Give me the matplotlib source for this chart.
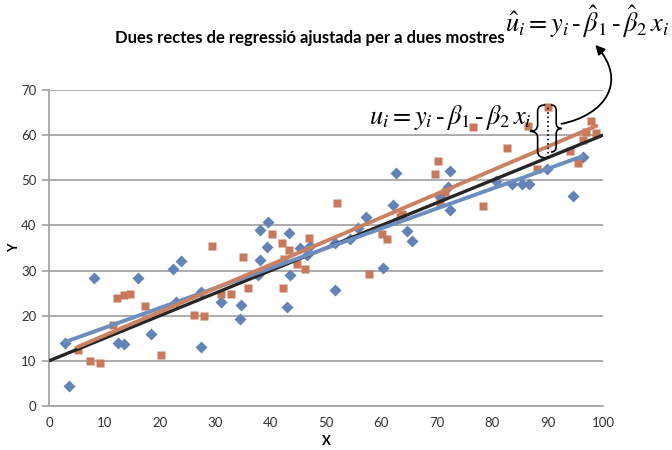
import matplotlib
matplotlib.use("Agg")
import matplotlib.pyplot as plt
from matplotlib.path import Path
from matplotlib.patches import PathPatch, FancyArrowPatch

plt.rcParams['font.family'] = ['Lato', 'DejaVu Sans']
plt.rcParams['mathtext.fontset'] = 'stix'

# sample 1 (blue diamonds)
x1 = [2.9, 3.7, 8.1, 12.4, 13.6, 16.1, 18.4, 22.4, 23.0, 23.9, 27.4, 27.4, 31.0, 34.5,
      34.6, 37.8, 38.1, 38.1, 39.3, 39.6, 42.9, 43.4, 43.5, 45.3, 46.6, 47.1, 51.6, 51.6,
      54.3, 55.8, 57.3, 60.2, 62.1, 62.6, 64.6, 65.6, 70.5, 72.1, 72.3, 72.4, 80.7, 83.5,
      85.3, 86.6, 89.9, 94.5, 96.4]
y1 = [13.9, 4.4, 28.4, 14.0, 13.8, 28.3, 16.0, 30.4, 23.1, 32.1, 13.1, 25.3, 23.1, 19.2,
      22.4, 29.0, 39.0, 32.3, 35.3, 40.8, 21.9, 38.3, 29.0, 34.9, 33.5, 35.4, 25.8, 36.0,
      37.1, 39.4, 41.8, 30.6, 44.5, 51.7, 38.8, 36.6, 46.4, 48.6, 43.4, 52.1, 49.8, 49.2,
      49.2, 49.2, 52.4, 46.5, 55.2]

# sample 2 (orange squares)
x2 = [5.2, 7.4, 9.2, 11.5, 12.3, 13.5, 14.6, 17.4, 20.2, 26.1, 27.9, 29.4, 31.0, 32.8,
      35.1, 35.9, 40.2, 42.1, 42.3, 42.4, 43.3, 44.7, 46.2, 47.0, 52.0, 57.8, 60.1, 61.1,
      63.4, 63.8, 69.6, 70.2, 70.6, 71.5, 76.6, 78.4, 82.7, 86.5, 88.0, 90.0, 94.0, 95.5,
      96.3, 97.0, 97.9, 98.8]
y2 = [12.4, 9.9, 9.6, 17.9, 24.0, 24.6, 24.8, 22.2, 11.2, 20.1, 19.9, 35.4, 24.7, 24.7,
      33.1, 26.1, 38.1, 36.0, 26.1, 32.5, 34.6, 31.5, 30.4, 37.2, 44.9, 29.2, 38.1, 36.9,
      41.9, 42.5, 51.5, 54.3, 45.0, 47.5, 61.9, 44.3, 57.2, 62.0, 52.6, 66.2, 56.5, 53.9,
      58.9, 60.6, 63.2, 60.4]

# population line and the two fitted lines (intercept, slope)
true_line = (10.0, 0.5)
fit1 = (12.9, 0.4406)
fit2 = (10.38, 0.523)

x_ticks = list(range(0, 101, 10))
y_ticks = list(range(0, 71, 10))

blue = '#6283B5'
orange = '#C8785B'
grid_grey = '#A6A6A6'

fig = plt.figure(figsize=(6.72, 4.5), dpi=100)
ax = fig.add_axes([49 / 672, 1 - 406 / 450, 554 / 672, 316 / 450])

ax.set_xlim(0, 100)
ax.set_ylim(0, 70)
ax.set_xticks(x_ticks)
ax.set_yticks(y_ticks)
ax.yaxis.grid(True, color=grid_grey, lw=1.3)
ax.set_axisbelow(True)
for s in ['top', 'right']:
    ax.spines[s].set_visible(False)
for s in ['left', 'bottom']:
    ax.spines[s].set_color(grid_grey)
    ax.spines[s].set_linewidth(1.3)
ax.tick_params(axis='x', length=0, pad=8, labelsize=9.5, labelcolor='#333333')
ax.tick_params(axis='y', length=5, width=1.3, color=grid_grey, pad=4,
               labelsize=9.5, labelcolor='#333333')

ax.set_xlabel('X', fontsize=9.5, fontweight='bold', labelpad=4)
ax.set_ylabel('Y', fontsize=9.5, fontweight='bold', labelpad=1)

# scatter of both samples
ax.plot(x1, y1, 'D', color=blue, ms=6.2, mec='none', zorder=3)
ax.plot(x2, y2, 's', color=orange, ms=5.6, mec='none', zorder=3)

# population regression line
ax.plot([0, 100], [true_line[0], true_line[0] + true_line[1] * 100],
        color='#262626', lw=2.4, solid_capstyle='butt', zorder=4)

# fitted lines over the range of each sample
for xs, (a, b), c in [(x1, fit1, '#6C8DC0'), (x2, fit2, '#CB8161')]:
    lo, hi = min(xs), max(xs)
    ax.plot([lo, hi], [a + b * lo, a + b * hi], color=c, lw=2.8,
            solid_capstyle='round', zorder=5)


def brace(x_back, x_tip, y0, y1):
    # vertical curly brace, tip pointing towards x_tip
    xm = (x_back + x_tip) / 2
    ym = (y0 + y1) / 2
    q = (y1 - y0) * 0.12
    verts = [(x_back, y0), (xm, y0), (xm, y0 + q),
             (xm, ym - q), (xm, ym), (x_tip, ym),
             (xm, ym), (xm, ym + q),
             (xm, y1 - q), (xm, y1), (x_back, y1)]
    codes = [Path.MOVETO, Path.CURVE3, Path.CURVE3,
             Path.LINETO, Path.CURVE3, Path.CURVE3,
             Path.CURVE3, Path.CURVE3,
             Path.LINETO, Path.CURVE3, Path.CURVE3]
    return PathPatch(Path(verts, codes), fc='none', ec='black', lw=1.2,
                     clip_on=False, zorder=6)


# residual of the marked point against both lines
xp, yp = 90.0, 66.2
y_true = true_line[0] + true_line[1] * xp
y_fit = fit2[0] + fit2[1] * xp
ax.plot([xp, xp], [y_true, yp], color='black', ls=':', lw=1.2, zorder=6)
ax.add_patch(brace(89.6, 86.8, y_true, yp + 0.5))
ax.add_patch(brace(90.6, 92.5, y_fit - 1.2, yp + 0.5))

curve = Path([(92.5, 62.5), (100.5, 64.5), (104.5, 72.0), (98.6, 80.0)],
             [Path.MOVETO, Path.CURVE4, Path.CURVE4, Path.CURVE4])
ax.add_patch(FancyArrowPatch(path=curve, arrowstyle='-|>', mutation_scale=14,
                             color='black', lw=1.3, clip_on=False, zorder=6))

fig.text(310 / 672, 1 - 38 / 450, 'Dues rectes de regressió ajustada per a dues mostres',
         ha='center', va='center', fontsize=12, fontweight='bold')

fig.text(587 / 672, 1 - 22 / 450,
         r'$\hat{u}_{i} = y_{i}\,\text{-}\,\hat{\beta}_{1}\,\text{-}\,\hat{\beta}_{2}\,x_{i}$',
         ha='center', va='center', fontsize=19)
fig.text(450 / 672, 1 - 117 / 450,
         r'$u_{i} = y_{i}\,\text{-}\,\beta_{1}\,\text{-}\,\beta_{2}\,x_{i}$',
         ha='center', va='center', fontsize=19)

fig.savefig('out.png', dpi=100)
